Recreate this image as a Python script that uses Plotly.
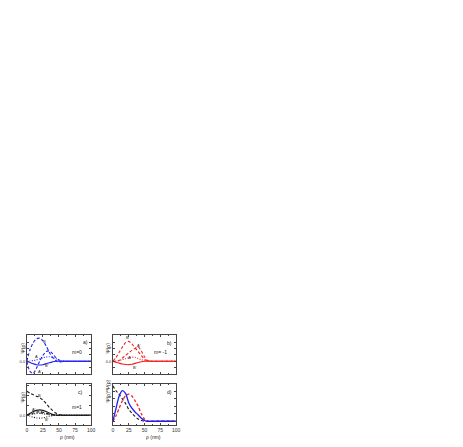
import plotly.graph_objects as go

# radial coordinate (nm)
rho = [0, 5, 10, 15, 20, 25, 30, 35, 40, 45, 50, 55, 60, 70, 80, 90, 100]

# a) m=0
a_B = [0, 0.9, 1.45, 1.75, 1.8, 1.6, 1.2, 0.7, 0.3, 0.05, -0.05, -0.04, 0, 0, 0, 0, 0]
a_Ap = [0, -0.8, -0.95, -0.55, 0.0, 0.45, 0.75, 0.8, 0.6, 0.3, 0.1, 0.02, 0, 0, 0, 0, 0]
a_A = [0, 0.02, 0.05, 0.1, 0.18, 0.27, 0.33, 0.35, 0.3, 0.2, 0.1, 0.03, 0, 0, 0, 0, 0]
a_Bp = [0, -0.1, -0.2, -0.28, -0.3, -0.27, -0.2, -0.12, -0.05, 0, 0, 0, 0, 0, 0, 0, 0]

# b) m=-1
b_B = [0, 0.3, 0.7, 1.1, 1.45, 1.55, 1.35, 1.05, 0.75, 0.45, 0.15, 0.02, 0, 0, 0, 0, 0]
b_Ap = [0, 0, 0.05, 0.25, 0.45, 0.65, 0.85, 1.0, 1.12, 0.8, 0.35, 0.05, 0, 0, 0, 0, 0]
b_A = [0, 0.02, 0.06, 0.12, 0.2, 0.28, 0.32, 0.3, 0.22, 0.12, 0.05, 0.01, 0, 0, 0, 0, 0]
b_Bp = [0, -0.08, -0.15, -0.22, -0.26, -0.27, -0.24, -0.17, -0.1, -0.04, 0, 0, 0, 0, 0, 0, 0]

# c) m=1
c_B = [2.45, 2.25, 2.1, 1.95, 1.8, 1.55, 1.2, 0.8, 0.5, 0.22, 0.08, 0.02, 0, 0, 0, 0, 0]
c_S = [0, 0.2, 0.38, 0.5, 0.55, 0.5, 0.38, 0.22, 0.1, 0.03, 0, 0, 0, 0, 0, 0, 0]
c_Ap = [0, 0.1, 0.22, 0.32, 0.35, 0.3, 0.2, 0.1, 0.03, 0, 0, 0, 0, 0, 0, 0, 0]
c_A = [0, 0.05, 0.12, 0.18, 0.2, 0.16, 0.1, 0.05, 0.02, 0, 0, 0, 0, 0, 0, 0, 0]
c_Bp = [0, -0.1, -0.2, -0.27, -0.3, -0.27, -0.2, -0.1, -0.04, 0, 0, 0, 0, 0, 0, 0, 0]

# d) densities
d_blue = [0, 0.35, 0.68, 0.82, 0.75, 0.5, 0.35, 0.25, 0.17, 0.08, 0.02, 0, 0, 0, 0, 0, 0]
d_red = [0, 0.15, 0.35, 0.55, 0.68, 0.73, 0.68, 0.55, 0.4, 0.2, 0.06, 0.01, 0, 0, 0, 0, 0]
d_black = [0.95, 0.82, 0.72, 0.6, 0.48, 0.32, 0.22, 0.13, 0.06, 0.02, 0, 0, 0, 0, 0, 0, 0]

x_ticks = [0, 25, 50, 75, 100]

BLUE = "#1f1ff5"
RED = "#f51f1f"
BLACK = "#1a1a1a"
FONT = "Liberation Sans"
DASH = "3px,2px"
DOT = "1px,1.5px"

fig = go.Figure()


def add(y, color, dash, ax, width=1.1):
    fig.add_trace(go.Scatter(x=rho, y=y, mode="lines", xaxis="x" + ax, yaxis="y" + ax,
                             line=dict(color=color, dash=dash, width=width, shape="spline",
                                       smoothing=0.8),
                             showlegend=False, hoverinfo="skip"))


add(a_B, BLUE, DASH, "")
add(a_Ap, BLUE, DASH, "")
add(a_A, BLUE, DOT, "")
add(a_Bp, BLUE, "solid", "")

add(b_B, RED, DASH, "2")
add(b_Ap, RED, DASH, "2")
add(b_A, RED, DOT, "2")
add(b_Bp, RED, "solid", "2")

add(c_B, BLACK, DASH, "3")
add(c_S, BLACK, "solid", "3")
add(c_Ap, BLACK, DASH, "3")
add(c_A, BLACK, DOT, "3")
add(c_Bp, BLACK, DOT, "3")

add(d_black, BLACK, DASH, "4")
add(d_red, RED, DASH, "4", 1.3)
add(d_blue, BLUE, "solid", "4", 1.3)

W, H = 463, 447
OFF = 8  # default page margin of the html body


def hx(px):
    return (px - OFF) / W


def vy(py):
    return 1 - (py - OFF) / H


dom_left = [hx(26), hx(91)]
dom_right = [hx(113), hx(177)]
dom_top = [vy(374), vy(335)]
dom_bot = [vy(425), vy(384)]

tickfont = dict(family=FONT, size=5, color="#333")


def xax(domain, anchor, labels):
    return dict(domain=domain, anchor=anchor, range=[0, 100], tickvals=x_ticks,
                showticklabels=labels, ticks="inside", ticklen=2, tickwidth=0.6,
                mirror="allticks", showline=True, linecolor="#444", linewidth=0.7,
                showgrid=False, zeroline=False, tickfont=tickfont,
                minor=dict(dtick=12.5, ticks="inside", ticklen=1, tickwidth=0.5))


def yax(domain, anchor, rng, vals, zero_label=True):
    text = ["0.0" if (v == 0 and zero_label) else "" for v in vals]
    return dict(domain=domain, anchor=anchor, range=rng, tickvals=vals, ticktext=text,
                ticks="inside", ticklen=2, tickwidth=0.6, mirror="allticks",
                showline=True, linecolor="#444", linewidth=0.7, showgrid=False,
                zeroline=False, tickfont=dict(family=FONT, size=4, color="#333"))


fig.update_layout(
    width=W, height=H,
    margin=dict(l=0, r=0, t=0, b=0),
    plot_bgcolor="white", paper_bgcolor="white",
    xaxis=xax(dom_left, "y", False),
    yaxis=yax(dom_top, "x", [-1, 2.05], [-1, -0.5, 0, 0.5, 1, 1.5, 2]),
    xaxis2=xax(dom_right, "y2", False),
    yaxis2=yax(dom_top, "x2", [-1, 2.05], [-1, -0.5, 0, 0.5, 1, 1.5, 2]),
    xaxis3=xax(dom_left, "y3", True),
    yaxis3=yax(dom_bot, "x3", [-1, 3.2], [-1, 0, 1, 2, 3]),
    xaxis4=xax(dom_right, "y4", True),
    yaxis4=yax(dom_bot, "x4", [-0.1, 1.0], [0, 0.2, 0.4, 0.6, 0.8, 1.0], zero_label=False),
)


def label(text, x, y, ax, size=4):
    fig.add_annotation(text=text, x=x, y=y, xref="x" + ax, yref="y" + ax, showarrow=False,
                       font=dict(family=FONT, size=size, color="#222"))


label("B", 28, 1.54, "")
label("A", 15, 0.38, "")
label("B'", 32, -0.36, "")
label("A'", 20, -0.82, "")
label("a)", 91, 1.54, "", 5)
label("m=0", 78, 0.72, "", 5)

label("B", 23, 1.85, "2")
label("A'", 41, 1.25, "2")
label("A", 27, 0.28, "2")
label("B'", 35, -0.49, "2")
label("b)", 89, 1.46, "2", 5)
label("m= -1", 76, 0.75, "2", 5)

label("B", 20, 2.07, "3")
label("A'", 11, 0.61, "3")
label("A", 23, 0.3, "3")
label("B'", 31, -0.42, "3")
label("c)", 83, 2.41, "3", 5)
label("m=1", 78, 0.87, "3", 5)

label("d)", 90, 0.79, "4", 5)

# y-axis titles
for text, px, py in [("Ψ(ρ)", 17, 355), ("Ψ(ρ)", 103, 355), ("Ψ(ρ)", 17, 404),
                     ("Ψ(ρ)*Ψ(ρ)", 103, 404)]:
    fig.add_annotation(text=text, x=hx(px), y=vy(py), xref="paper", yref="paper",
                       textangle=-90, showarrow=False, font=dict(family=FONT, size=5, color="#222"))

# x-axis titles
for px in [59, 145]:
    fig.add_annotation(text="ρ (nm)", x=hx(px), y=vy(441), xref="paper", yref="paper",
                       showarrow=False, borderpad=0, font=dict(family=FONT, size=5, color="#222"))

fig.write_html("out.html")
